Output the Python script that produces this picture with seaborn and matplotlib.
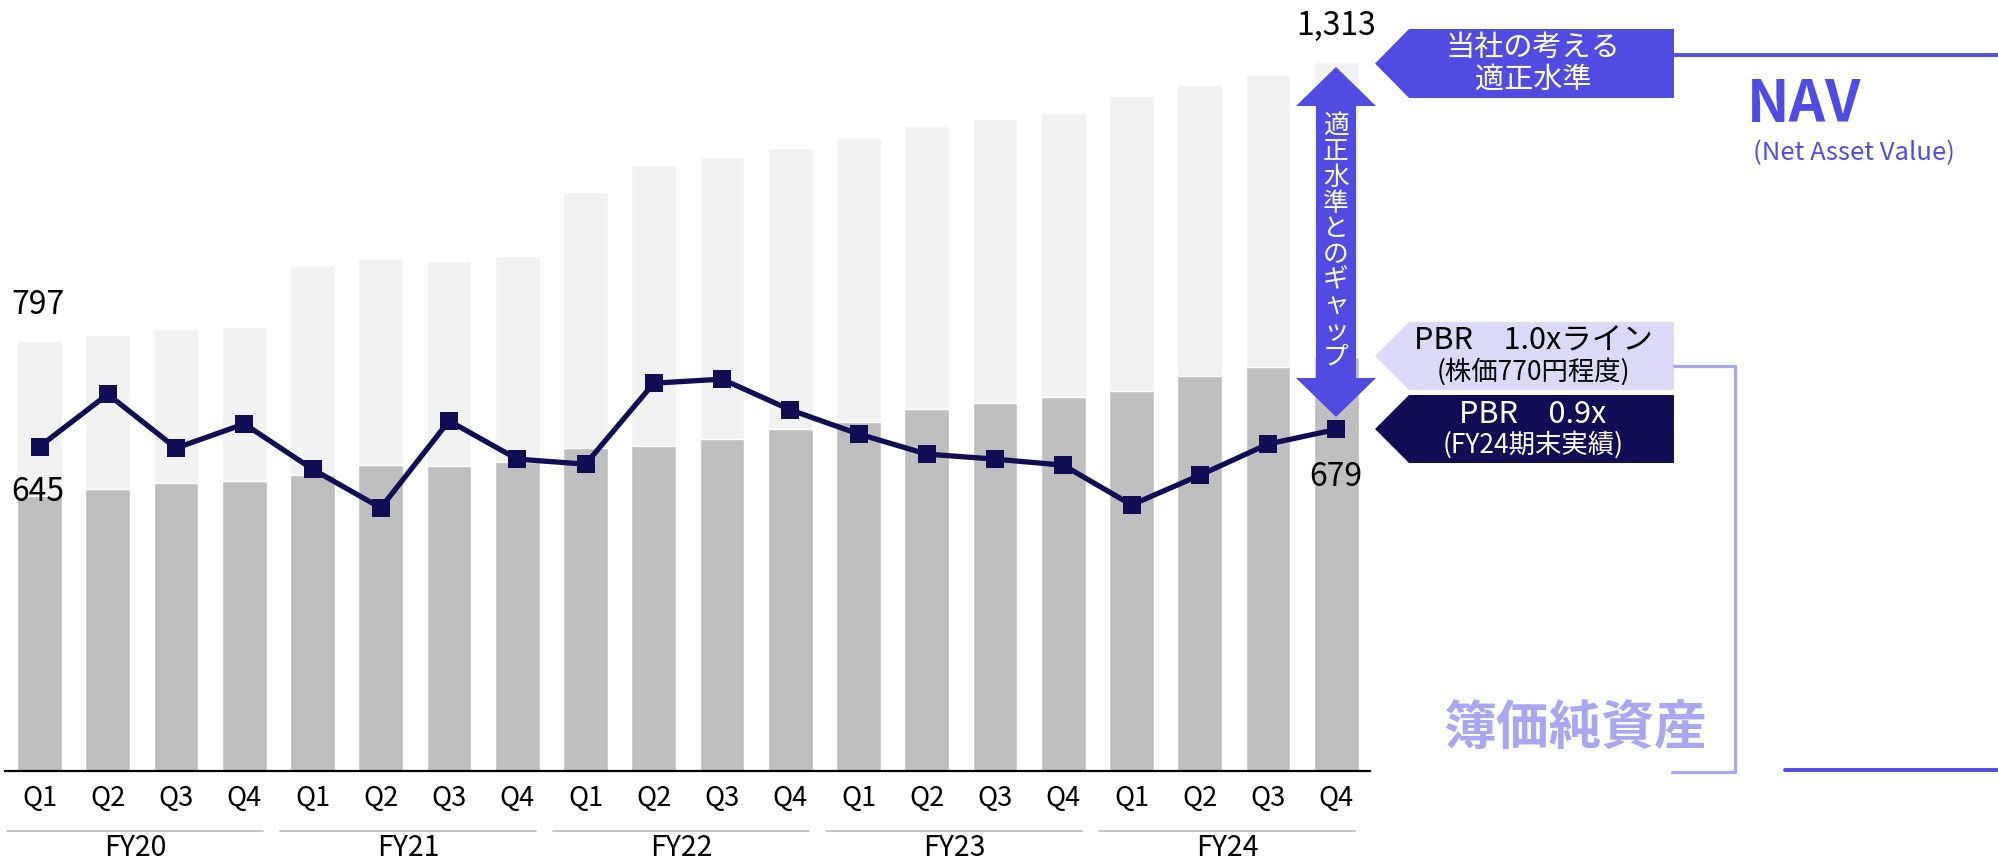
import numpy as np
import pandas as pd
import matplotlib
matplotlib.use('Agg')
import matplotlib.pyplot as plt
import matplotlib.transforms as mtransforms
from matplotlib.patches import Polygon
from matplotlib.lines import Line2D
import seaborn as sns

# ==============================================================================
# DATA
# ==============================================================================
fiscal_years = ['FY20', 'FY21', 'FY22', 'FY23', 'FY24']
quarters = ['Q1', 'Q2', 'Q3', 'Q4']
nav_per_share = [797, 807, 819, 822, 935, 948, 945, 954, 1072, 1122,
                 1137, 1154, 1172, 1195, 1207, 1219, 1250, 1270, 1289, 1313]
book_value = [509, 522, 533, 537, 548, 567, 565, 572, 598, 602,
              615, 633, 646, 670, 682, 693, 704, 732, 748, 767]
share_price = [645, 749, 642, 690, 600, 523, 696, 620, 610, 771,
               779, 718, 670, 630, 620, 608, 529, 588, 650, 679]

# ==============================================================================
# STYLE
# ==============================================================================
BLUE = '#504CE2'
NAVY = '#110D55'
LAVENDER = '#DCDAF8'
LILAC = '#A9A7F2'
LIGHT_BAR = '#F2F2F2'
DARK_BAR = '#BFBFBF'

sns.set_theme(style='white')
plt.rcParams['font.family'] = ['Noto Sans CJK JP', 'DejaVu Sans']

W, H = 1999, 863
fig = plt.figure(figsize=(W / 100, H / 100), dpi=100)


def fp(x, y):
    """pixel position (from top-left) -> figure fraction"""
    return (x / W, 1 - y / H)


base_px = 771
ax = fig.add_axes([5.4 / W, 1 - base_px / H, 1365 / W, base_px / H])
n = len(nav_per_share)
df = pd.DataFrame({
    'pos': np.arange(n),
    'label': quarters * len(fiscal_years),
    'nav': nav_per_share,
    'bps': book_value,
    'price': share_price,
})

sns.barplot(data=df, x='pos', y='nav', color=LIGHT_BAR, saturation=1,
            width=0.655, ax=ax)
sns.barplot(data=df, x='pos', y='bps', color=DARK_BAR, saturation=1,
            width=0.655, ax=ax)
ax.set_xlim(-0.5, n - 0.5)
ax.set_ylim(0, base_px * 1.852)
ax.set_xlabel('')
ax.set_ylabel('')
ax.set_yticks([])
ax.set_xticks(range(n))
ax.set_xticklabels(df['label'], fontsize=19.5, color='black')
ax.tick_params(axis='x', length=0, pad=10)
for s in ['top', 'right', 'left']:
    ax.spines[s].set_visible(False)
ax.spines['bottom'].set_color('black')
ax.spines['bottom'].set_linewidth(1.6)
ax.patch.set_alpha(0)

# share price line on its own scale
ax2 = ax.twinx()
sns.lineplot(data=df, x='pos', y='price', color=NAVY, lw=3.8, marker='s',
             markersize=13.5, markeredgewidth=0, ax=ax2)
ax2.set_ylim(0, base_px * 1.988)
ax2.set_xlim(-0.5, n - 0.5)
ax2.set_axis_off()

# value labels
num_kw = dict(fontsize=23, color='black', ha='center', va='center',
              textcoords='offset points')
ax.annotate(f'{nav_per_share[0]:,}', xy=(0, nav_per_share[0]), xytext=(-1, 25.5), **num_kw)
ax.annotate(f'{nav_per_share[-1]:,}', xy=(n - 1, nav_per_share[-1]), xytext=(0, 26), **num_kw)
ax2.annotate(f'{share_price[0]:,}', xy=(0, share_price[0]), xytext=(-1, -33), **num_kw)
ax2.annotate(f'{share_price[-1]:,}', xy=(n - 1, share_price[-1]), xytext=(0, -34), **num_kw)

# fiscal year groups
trans = mtransforms.blended_transform_factory(ax.transData, ax.transAxes)
for i, fy in enumerate(fiscal_years):
    start = i * 4
    ax.add_line(Line2D([start - 0.47, start + 3.27], [-0.078, -0.078],
                       transform=trans, color='#BBBBBB', lw=1.2, clip_on=False))
    ax.text(start + 1.4, -0.10, fy, transform=trans, ha='center', va='center',
            fontsize=20.5, color='black')

# gap arrow over the last quarter
cx = 1336
arrow_pts = [(cx, 67), (cx + 40, 106), (cx + 20, 106), (cx + 20, 378),
             (cx + 40, 378), (cx, 417), (cx - 40, 378), (cx - 20, 378),
             (cx - 20, 106), (cx - 40, 106)]
fig.add_artist(Polygon([fp(*p) for p in arrow_pts], closed=True,
                       transform=fig.transFigure, facecolor=BLUE, edgecolor='none'))
fig.text(*fp(cx, 242), '\n'.join('適正水準とのギャップ'), ha='center', va='center',
         fontsize=18.5, color='white', linespacing=0.98)


def tag(y0, y1, color, lines, text_color, sizes):
    pts = [(1375, (y0 + y1) / 2), (1409, y0), (1674, y0), (1674, y1), (1409, y1)]
    fig.add_artist(Polygon([fp(*p) for p in pts], closed=True,
                           transform=fig.transFigure, facecolor=color, edgecolor='none'))
    ys = [y0 + (y1 - y0) * 0.28, y0 + (y1 - y0) * 0.73]
    for txt, yy, fs in zip(lines, ys, sizes):
        fig.text(*fp(1533, yy), txt, ha='center', va='center', fontsize=fs,
                 color=text_color)


tag(29, 98, BLUE, ['当社の考える', '適正水準'], 'white', [21, 21])
tag(322, 390, LAVENDER, ['PBR\u30001.0xライン', '(株価770円程度)'], 'black', [22, 19])
tag(395, 463, NAVY, ['PBR\u30000.9x', '(FY24期末実績)'], 'white', [22, 19])

# NAV / book value annotations on the right
fig.add_artist(Line2D([1674 / W, 1.0], [1 - 55 / H] * 2, color=BLUE, lw=2.8))
fig.add_artist(Line2D([1785 / W, 1.0], [1 - 770 / H] * 2, color=BLUE, lw=2.8))
fig.text(*fp(1804, 105), 'NAV', ha='center', va='center', fontsize=41,
         fontweight='bold', color=BLUE)
fig.text(*fp(1854, 153), '(Net Asset Value)', ha='center', va='center',
         fontsize=18.5, color=BLUE)

bx = [1674, 1735, 1735, 1672]
by = [366, 366, 772, 772]
fig.add_artist(Line2D([x / W for x in bx], [1 - y / H for y in by],
                      color=LILAC, lw=2.3))
fig.text(*fp(1575, 728), '簿価純資産', ha='center', va='center', fontsize=38,
         fontweight='bold', color=LILAC)

fig.savefig('out.png', dpi=100)
